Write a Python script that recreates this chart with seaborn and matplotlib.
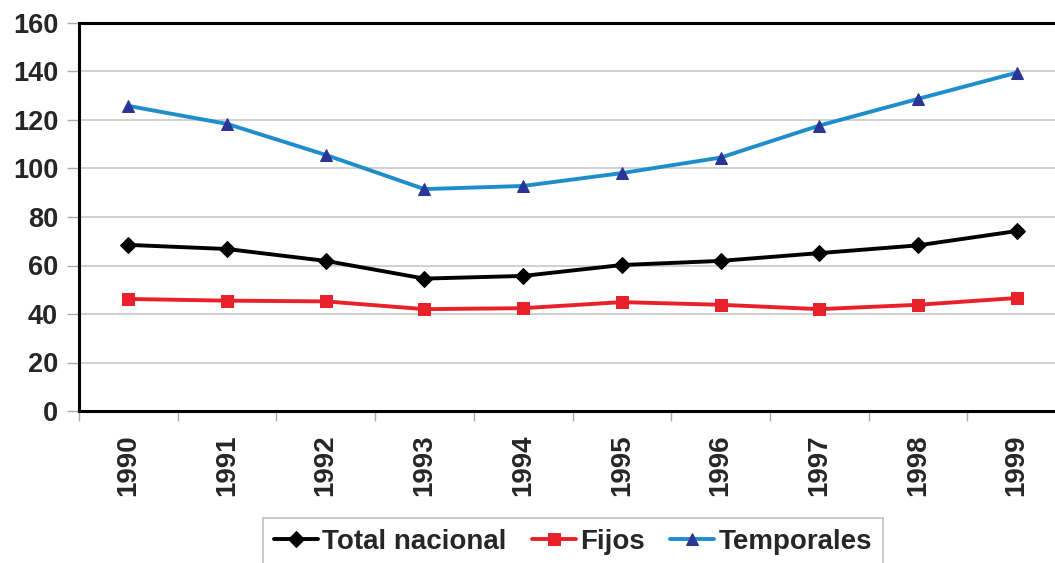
import matplotlib
matplotlib.use("Agg")
import matplotlib.pyplot as plt
import seaborn as sns
import pandas as pd
import numpy as np

years = ["1990", "1991", "1992", "1993", "1994", "1995", "1996", "1997", "1998", "1999"]
total_nacional = [68.5, 66.8, 61.9, 54.6, 55.7, 60.2, 61.9, 65.1, 68.3, 74.2]
fijos = [46.2, 45.5, 45.2, 42.0, 42.4, 44.9, 43.8, 42.0, 43.8, 46.6]
temporales = [125.8, 118.4, 105.6, 91.5, 92.8, 98.1, 104.5, 117.7, 128.7, 139.5]
y_ticks = [0, 20, 40, 60, 80, 100, 120, 140, 160]

sns.set_theme(style="white")
plt.rcParams['font.family'] = ['Liberation Sans', 'DejaVu Sans']

fig = plt.figure(figsize=(10.55, 5.63), dpi=100)
ax = fig.add_axes([79/1055, 1 - 411/563, (1066 - 79)/1055, (411 - 23)/563])

pos = np.arange(len(years))
series = [
    ("Total nacional", total_nacional, "#000000", "#000000", "D", 8),
    ("Fijos", fijos, "#e8212b", "#e8212b", "s", 9),
    ("Temporales", temporales, "#1e8dcc", "#2a3596", "^", 9),
]
handles = []
for name, vals, lc, mc, mk, ms in series:
    df = pd.DataFrame({"x": pos, "y": vals})
    sns.lineplot(data=df, x="x", y="y", ax=ax, color=lc, linewidth=2.8,
                 marker=mk, markersize=ms, markerfacecolor=mc, markeredgecolor=mc,
                 label=name, legend=False)
    handles.append(ax.lines[-1])

ax.set_xlim(-0.5, len(years) - 0.5)
ax.set_ylim(0, 160)
ax.set_yticks(y_ticks)
ax.set_yticklabels([str(v) for v in y_ticks], fontsize=19.5, fontweight="bold")
ax.set_xticks(pos)
ax.set_xticklabels(years, rotation=90, fontsize=20, fontweight="bold")
ax.set_xticks(np.arange(-0.5, len(years), 1.0), minor=True)
ax.tick_params(axis="x", which="major", length=0, pad=17)
ax.tick_params(axis="x", which="minor", length=7, width=1, color="#aaaaaa", direction="out", bottom=True)
ax.tick_params(axis="y", which="major", length=9, width=1, color="#aaaaaa", direction="out", left=True, pad=6)
ax.set_xlabel("")
ax.set_ylabel("")
ax.grid(axis="y", color="#c8c8c8", linewidth=1.2)
ax.set_axisbelow(True)
for s in ["left", "bottom", "top"]:
    ax.spines[s].set_visible(True)
    ax.spines[s].set_color("#000000")
    ax.spines[s].set_linewidth(2.2)
ax.spines["right"].set_visible(False)

leg = fig.legend(handles=handles, labels=[h.get_label() for h in handles],
                 loc="upper center", bbox_to_anchor=(0.543, 1 - 518/563), ncol=3,
                 borderaxespad=0.0,
                 frameon=True, fancybox=False, edgecolor="#b0b0b0",
                 prop={"size": 20, "weight": "bold"}, handlelength=1.6,
                 handletextpad=0.15, columnspacing=0.9, borderpad=0.4)
leg.get_frame().set_linewidth(1.2)

fig.savefig("out.png", dpi=100)
